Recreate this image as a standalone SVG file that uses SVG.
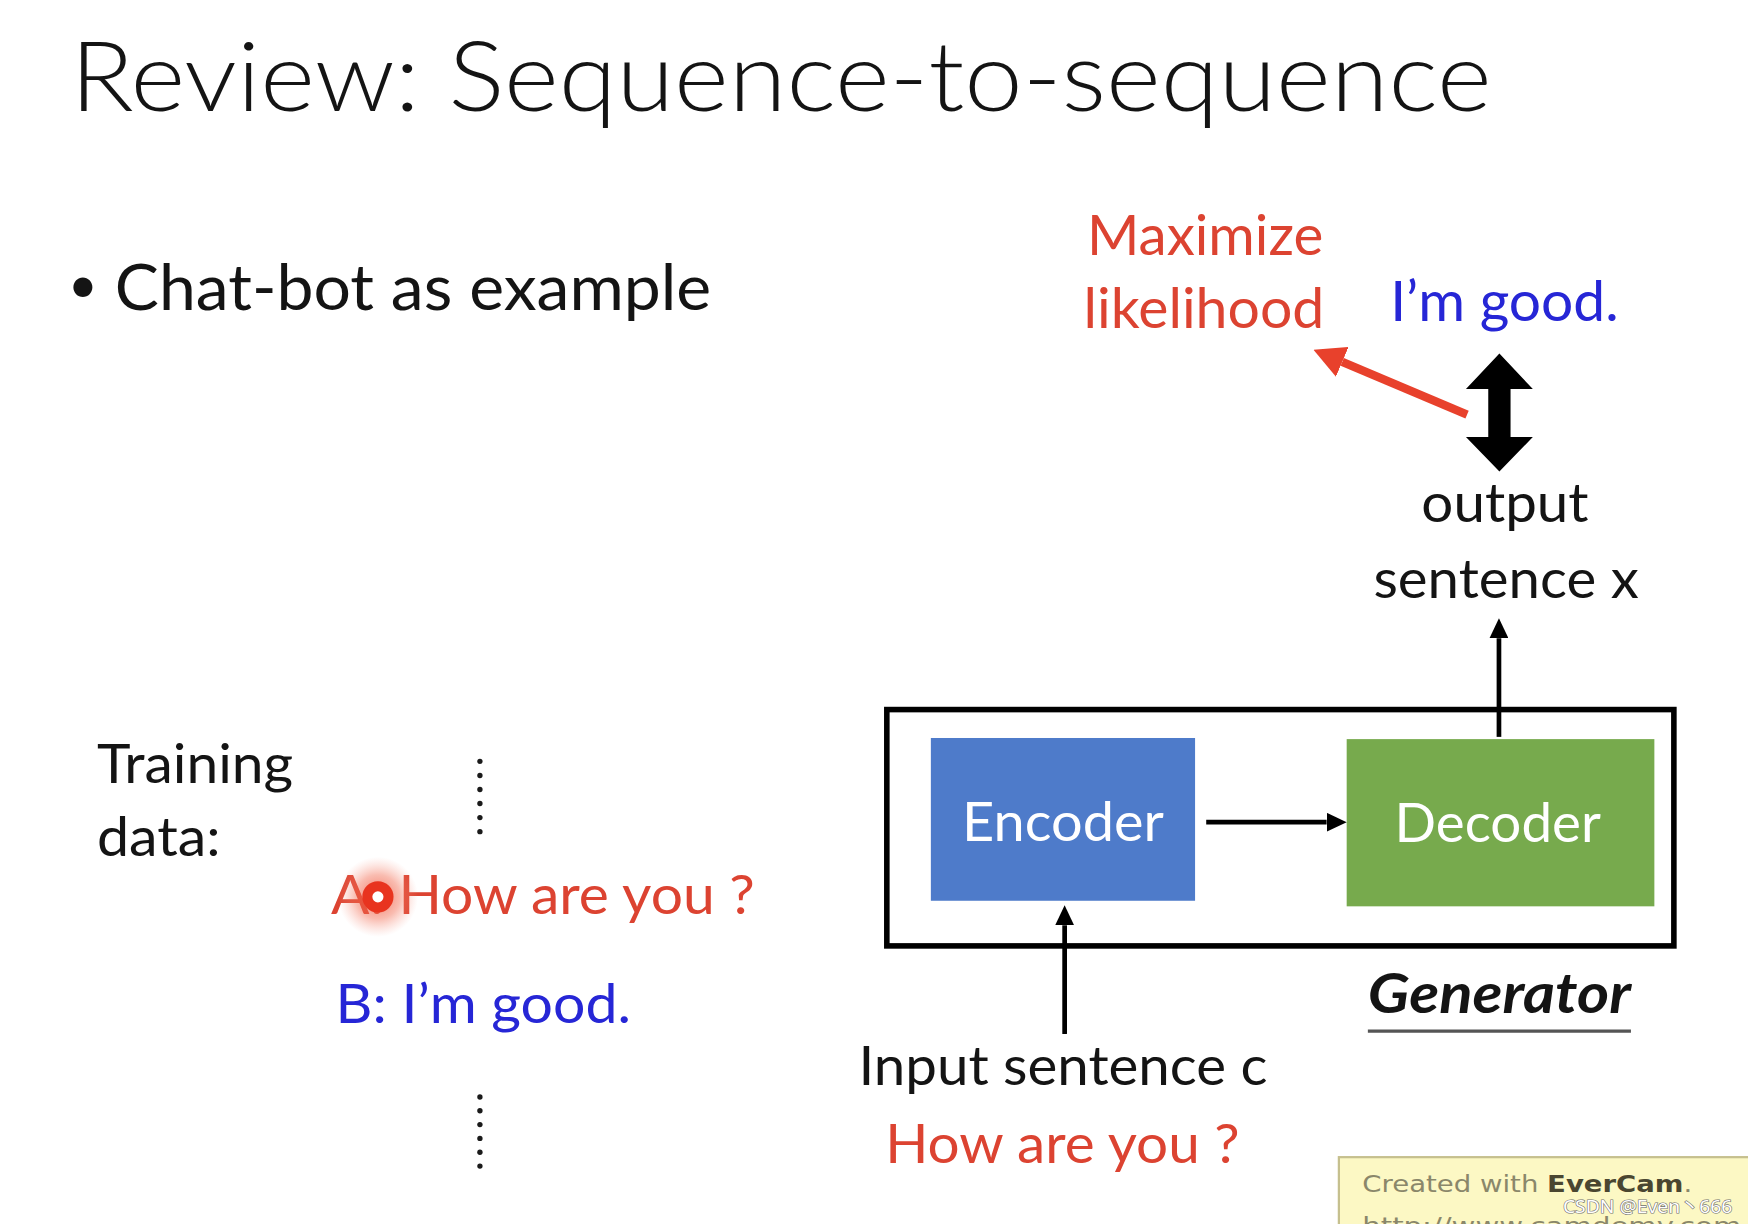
<svg xmlns="http://www.w3.org/2000/svg" width="1748" height="1224" viewBox="0 0 1748 1224">
<style>
.t{font-family:Lato,"Open Sans","Noto Sans",sans-serif;}
.blk{fill:#141414;}
.red{fill:#dc4331;}
.blue{fill:#2626d6;}
.wht{fill:#ffffff;}
.conn{stroke:#000;stroke-width:4.2;fill:none;}
</style>
<defs>
<marker id="ah" viewBox="0 0 18 17" refX="0" refY="8.5" markerWidth="18" markerHeight="17" markerUnits="userSpaceOnUse" orient="auto"><path d="M0,0 L18,8.5 L0,17 z" fill="#000"/></marker>
<marker id="ahr" viewBox="0 0 28 29" refX="0" refY="14.5" markerWidth="28" markerHeight="29" markerUnits="userSpaceOnUse" orient="auto"><path d="M0,0 L28,14.5 L0,29 z" fill="#e8412c"/></marker>
<radialGradient id="glow" cx="0.5" cy="0.5" r="0.5">
<stop offset="0" stop-color="#ee5038" stop-opacity="0.8"/>
<stop offset="0.55" stop-color="#f26a50" stop-opacity="0.45"/>
<stop offset="1" stop-color="#f8a090" stop-opacity="0"/>
</radialGradient>
</defs>
<rect width="1748" height="1224" fill="#ffffff"/>
<g transform="scale(1.1148)">
<g id="title">
<text class="t blk" x="63" y="100" font-size="86" font-weight="300" textLength="1275" lengthAdjust="spacingAndGlyphs">Review: Sequence-to-sequence</text>
</g>
<g id="bullet">
<text class="t blk" x="61" y="272" font-size="46">•</text>
<text class="t blk" x="103" y="278" font-size="57" textLength="535" lengthAdjust="spacingAndGlyphs">Chat-bot as example</text>
</g>
<g id="likelihood-label">
<text class="t red" x="975" y="229" font-size="50" textLength="212" lengthAdjust="spacingAndGlyphs">Maximize</text>
<text class="t red" x="972" y="294" font-size="50" textLength="216" lengthAdjust="spacingAndGlyphs">likelihood</text>
</g>
<g id="target-label">
<text class="t blue" x="1247" y="288" font-size="50" textLength="205" lengthAdjust="spacingAndGlyphs">I’m good.</text>
</g>
<g id="output-label">
<text class="t blk" x="1275" y="468" font-size="49" textLength="150" lengthAdjust="spacingAndGlyphs">output</text>
<text class="t blk" x="1232" y="536" font-size="49" textLength="238" lengthAdjust="spacingAndGlyphs">sentence x</text>
</g>
<g id="training-data">
<text class="t blk" x="87" y="702" font-size="48" textLength="176" lengthAdjust="spacingAndGlyphs">Training</text>
<text class="t blk" x="87" y="768" font-size="48" textLength="111" lengthAdjust="spacingAndGlyphs">data:</text>
<g fill="#1a1a1a">
<circle cx="430.5" cy="683" r="2.4"/><circle cx="430.5" cy="695.6" r="2.4"/><circle cx="430.5" cy="708.2" r="2.4"/><circle cx="430.5" cy="720.8" r="2.4"/><circle cx="430.5" cy="733.4" r="2.4"/><circle cx="430.5" cy="746" r="2.4"/>
<circle cx="430.5" cy="984" r="2.4"/><circle cx="430.5" cy="996.4" r="2.4"/><circle cx="430.5" cy="1008.8" r="2.4"/><circle cx="430.5" cy="1021.2" r="2.4"/><circle cx="430.5" cy="1033.6" r="2.4"/><circle cx="430.5" cy="1046" r="2.4"/>
</g>
<text class="t red" x="297" y="820" font-size="49" textLength="380" lengthAdjust="spacingAndGlyphs">A: How are you ?</text>
<text class="t blue" x="301" y="918" font-size="49" textLength="265" lengthAdjust="spacingAndGlyphs">B: I’m good.</text>
<circle cx="339" cy="804.5" r="36" fill="url(#glow)"/>
<circle cx="339" cy="804.5" r="9.5" fill="#ffffff" stroke="#e8341f" stroke-width="9"/>
</g>
<g id="generator">
<rect x="795.5" y="636.5" width="706" height="212" fill="none" stroke="#000" stroke-width="5"/>
<text class="t blk" x="1227" y="909" font-size="50" font-weight="700" font-style="italic" textLength="236" lengthAdjust="spacingAndGlyphs">Generator</text>
<line x1="1227" y1="925" x2="1463" y2="925" stroke="#555" stroke-width="3"/>
</g>
<g id="encoder">
<rect x="835" y="662" width="237" height="146" fill="#4e7bca"/>
<text class="t wht" x="863" y="754" font-size="49" textLength="181" lengthAdjust="spacingAndGlyphs">Encoder</text>
</g>
<g id="decoder">
<rect x="1208" y="663" width="276" height="150" fill="#77aa4d"/>
<text class="t wht" x="1251" y="755" font-size="49" textLength="185" lengthAdjust="spacingAndGlyphs">Decoder</text>
</g>
<g id="input-label">
<text class="t blk" x="770" y="973" font-size="49" textLength="367" lengthAdjust="spacingAndGlyphs">Input sentence c</text>
<text class="t red" x="794" y="1043" font-size="49" textLength="318" lengthAdjust="spacingAndGlyphs">How are you ?</text>
</g>
<g id="connectors">
<line class="conn" x1="1082" y1="737.5" x2="1190" y2="737.5" marker-end="url(#ah)"/>
<line class="conn" x1="955" y1="927.5" x2="955" y2="830" marker-end="url(#ah)"/>
<line class="conn" x1="1344.6" y1="661" x2="1344.6" y2="572.5" marker-end="url(#ah)"/>
<line x1="1316" y1="372" x2="1204" y2="324.7" stroke="#e8412c" stroke-width="7.5" marker-end="url(#ahr)"/>
<polygon points="1345,317 1375,349 1355,349 1355,392 1375,392 1345,423 1315,392 1335,392 1335,349 1315,349" fill="#000"/>
</g>
<g id="watermark">
<rect x="1201" y="1038" width="420" height="120" fill="#fcf8c4" stroke="#c6c08e" stroke-width="2"/>
<text x="1222" y="1069" font-family="'DejaVu Sans',Verdana,sans-serif" font-size="21" textLength="296" lengthAdjust="spacingAndGlyphs" fill="#8a876a">Created with <tspan font-weight="700" fill="#4a4630">EverCam</tspan>.</text>
<text x="1222" y="1107" font-family="'DejaVu Sans',Verdana,sans-serif" font-size="21" textLength="340" lengthAdjust="spacingAndGlyphs" fill="#8a876a">http://www.camdemy.com</text>
<text x="1402" y="1088" font-family="'Noto Sans','Noto Sans CJK SC',sans-serif" font-size="17" textLength="152" lengthAdjust="spacingAndGlyphs" fill="#ffffff" stroke="#6e6e6e" stroke-width="1.1" paint-order="stroke">CSDN @Even丶666</text>
</g>
</g>
</svg>
